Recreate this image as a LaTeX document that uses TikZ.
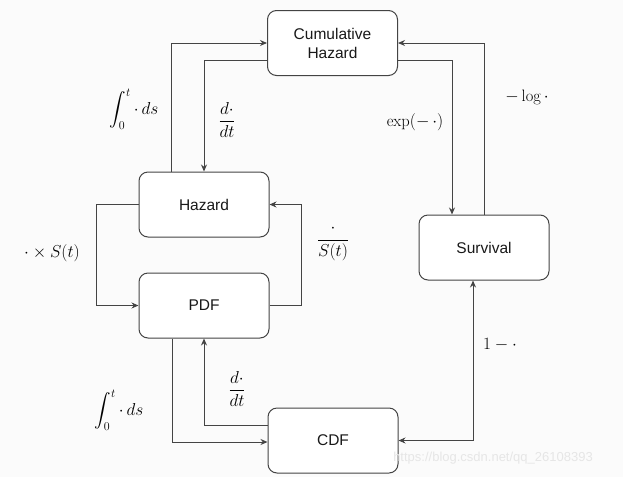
\documentclass[tikz,border=0pt]{standalone}
\usepackage{amsmath, amssymb}
\usepackage{xcolor}
\usepackage{fontspec}
\setsansfont{Liberation Sans}
\usetikzlibrary{calc, arrows.meta}

\definecolor{linegray}{HTML}{444444}
\definecolor{marklight}{HTML}{E6E6E6}

\tikzset{
	funcbox/.style = {draw = linegray, line width = 1pt, rounded corners = 9pt, fill = white,
		minimum width = 130pt, minimum height = 65pt, align = center,
		font = \sffamily\fontsize{15.5}{19}\selectfont, text = black!90},
	maplabel/.style = {font = \fontsize{16.5}{19}\selectfont, text = black, inner sep = 0pt},
}

\begin{document}
\begin{tikzpicture}[x = 1pt, y = -1pt]
		\useasboundingbox [fill = gray!3] (0,0) rectangle (623,477);
		
		\node [funcbox] (cum) at (332.5,43) {Cumulative\\Hazard};
		\node [funcbox] (haz) at (204,204.5) {Hazard};
		\node [funcbox] (pdf) at (204,305.5) {PDF};
		\node [funcbox] (cdf) at (333,440.5) {CDF};
		\node [funcbox] (surv) at (484,247.5) {Survival};
		
		\begin{scope}[-{Stealth[length = 7pt, width = 6pt]}, linegray, line width = 1pt]
			% hazard <-> cumulative hazard
			\draw ([xshift = -33pt]haz.north) |- (cum.west);
			\draw ([yshift = -17pt]cum.west) -| (haz.north);
			% cumulative hazard <-> survival
			\draw ([yshift = -17pt]cum.east) -| ([xshift = -32pt]surv.north);
			\draw (surv.north) |- (cum.east);
			% hazard <-> pdf
			\draw (haz.west) -- ++(-42,0) |- (pdf.west);
			\draw (pdf.east) -- ++(32,0) |- (haz.east);
			% pdf <-> cdf
			\draw ([xshift = -32pt]pdf.south) |- ([yshift = -1.5pt]cdf.west);
			\draw ([yshift = 15.5pt]cdf.west) -| (pdf.south);
			% cdf <-> survival
			\draw [{Stealth[length = 7pt, width = 6pt]}-{Stealth[length = 7pt, width = 6pt]}] (cdf.east) -| ([xshift = -11pt]surv.south);
		\end{scope}
		
		\node [maplabel] (intup) at (134,109) {$\displaystyle\int_0^t \cdot\, ds$};
		\node [maplabel] (diffup) at (227,120) {$\dfrac{d\cdot}{dt}$};
		\node [maplabel] (times) at (52,253) {$\cdot \times S(t)$};
		\node [maplabel] (divide) at (333,243) {$\dfrac{\cdot}{S(t)}$};
		\node [maplabel] (intdown) at (119,410) {$\displaystyle\int_0^t \cdot\, ds$};
		\node [maplabel] (diffdown) at (237,389) {$\dfrac{d\cdot}{dt}$};
		\node [maplabel] (expo) at (415,122) {$\exp(-\,\cdot)$};
		\node [maplabel] (mlog) at (527,97) {$-\log\cdot$};
		\node [maplabel] (onemin) at (500,345) {$1-\cdot$};
		
		\node [font = \sffamily\fontsize{13}{15}\selectfont, text = marklight] (mark) at (493,458) {https://blog.csdn.net/qq\_26108393};
	\end{tikzpicture}
\end{document}
